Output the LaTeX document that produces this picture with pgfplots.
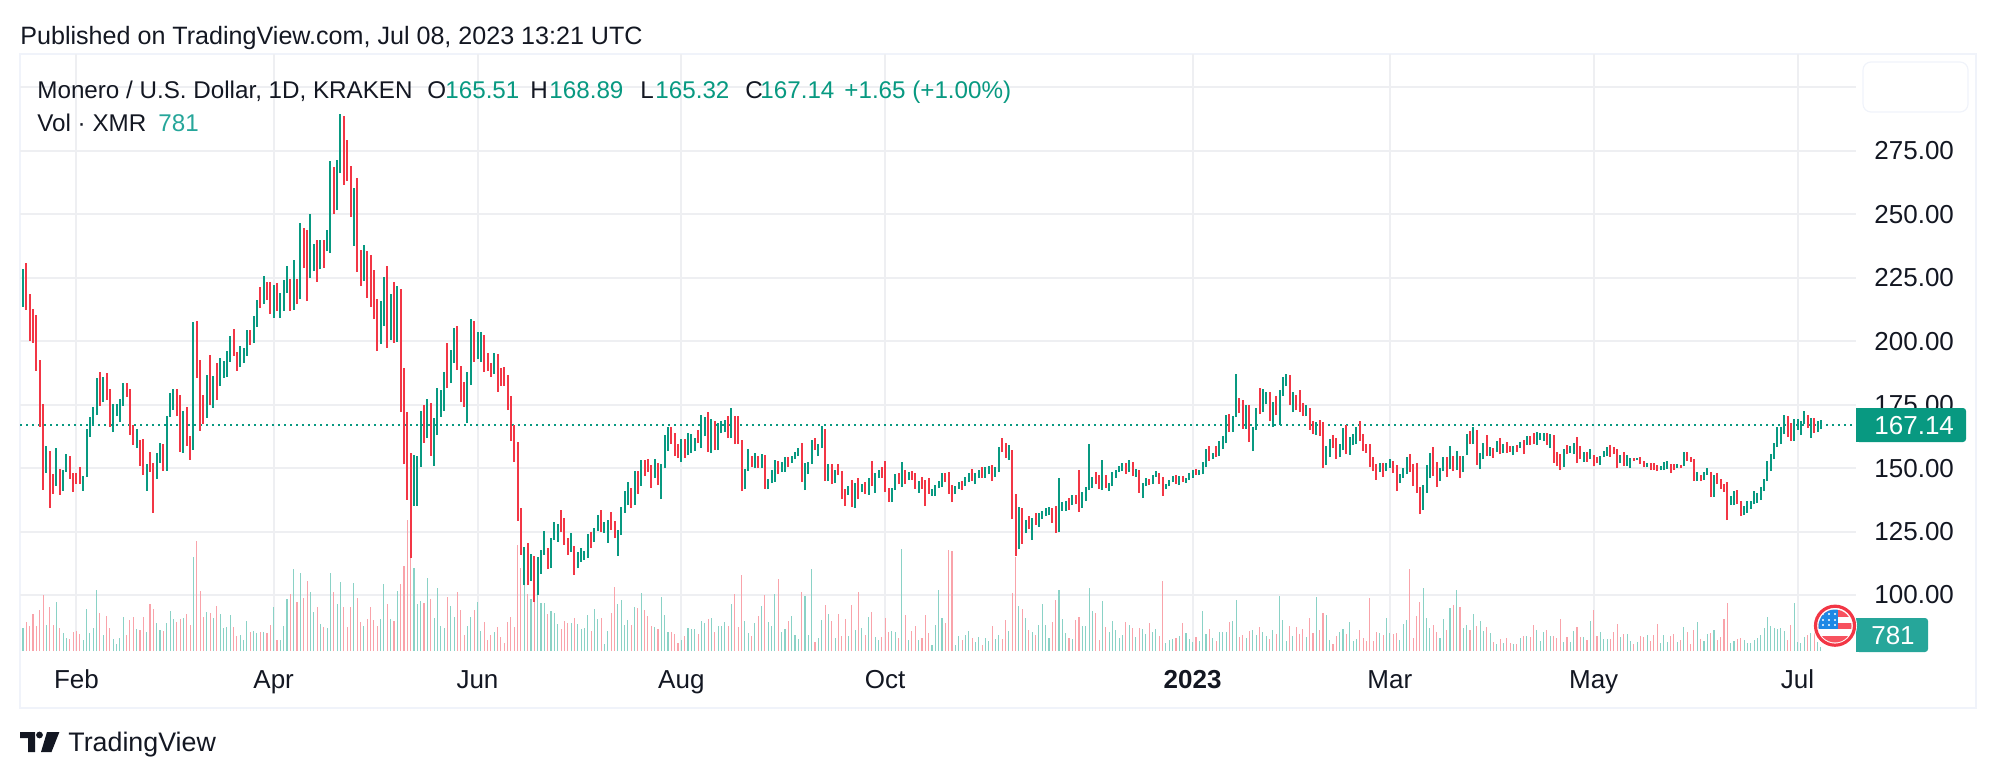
\documentclass[border=0pt]{standalone}
\usepackage{fontspec}
\setmainfont{Liberation Sans}
\usepackage{pgfplots}
\usepackage{pgfplotstable}
\pgfplotsset{compat=1.18}
\definecolor{tvg}{HTML}{089981}
\definecolor{tvr}{HTML}{F23645}
\definecolor{volg}{HTML}{8AD2C6}
\definecolor{volr}{HTML}{F9A3AA}
\definecolor{volbox}{HTML}{26A69A}
\definecolor{ink}{HTML}{131722}
\definecolor{gridc}{HTML}{EEEFF2}
\definecolor{framec}{HTML}{F0F3FA}
\definecolor{flagred}{HTML}{F7525F}
\definecolor{blue1}{HTML}{1E88E5}
\pgfplotstableread{
i hi lo c v
0 228.4 213.5 1 4485
1 230.8 212.3 0 5655
2 218.6 200.1 0 4875
3 212.7 199.3 0 7215
4 210.3 188.3 0 4875
5 192.6 166.2 0 7995
6 175.3 141.4 0 10920
7 158.7 148.1 1 5070
8 156.8 134.3 0 8580
9 147.7 139.8 0 5070
10 157.9 143.0 1 9555
11 149.7 139.4 0 4485
12 149.3 141.0 1 3510
13 155.6 148.5 1 2535
14 154.8 145.7 0 2340
15 148.1 140.6 0 3705
16 148.1 143.8 0 3900
17 150.5 143.8 0 3315
18 146.9 141.0 1 2145
19 165.4 146.5 1 8190
20 170.2 162.3 1 3510
21 174.1 166.6 1 4485
22 185.5 170.9 1 11895
23 187.9 174.5 0 7410
24 185.9 176.0 1 3120
25 187.5 176.8 0 6825
26 181.2 166.2 0 4485
27 175.3 164.2 1 2340
28 175.3 170.5 1 1365
29 177.2 168.2 1 2535
30 183.5 174.5 1 6630
31 183.5 178.0 0 3120
32 181.2 163.1 0 6045
33 167.0 159.1 0 6630
34 165.4 157.9 1 4290
35 161.1 150.9 0 4095
36 161.5 147.3 0 6630
37 151.6 141.0 1 3705
38 156.4 148.5 0 9165
39 152.0 132.4 0 8190
40 156.0 145.7 1 5460
41 159.9 152.0 1 4095
42 159.5 148.9 0 3900
43 170.5 148.9 1 5460
44 179.6 170.2 1 7800
45 181.2 172.9 1 6240
46 181.2 170.5 0 5655
47 178.8 156.4 0 6240
48 172.5 156.0 1 6435
49 174.1 158.7 0 7215
50 162.7 153.2 0 5070
51 207.6 157.2 1 18330
52 207.9 185.5 0 21450
53 192.6 164.6 0 11700
54 178.8 167.4 0 6630
55 186.7 169.8 1 7605
56 194.6 174.9 0 7410
57 186.3 173.7 1 6435
58 191.4 176.8 0 8775
59 193.4 182.4 1 7215
60 192.2 185.5 1 4485
61 196.1 185.9 1 4680
62 202.0 191.8 1 7020
63 204.8 194.2 0 4680
64 195.7 188.3 0 2925
65 198.1 189.8 1 3120
66 197.3 191.4 1 2145
67 204.4 194.2 1 5850
68 204.4 198.5 0 3705
69 209.9 199.3 1 3900
70 216.2 205.6 1 3510
71 221.3 213.1 0 3705
72 225.7 214.6 1 3705
73 223.3 216.2 0 3510
74 223.3 210.7 0 5070
75 222.1 209.1 1 8580
76 222.9 211.9 0 2145
77 219.0 209.1 1 2145
78 224.1 211.9 1 4875
79 229.6 219.0 1 10140
80 224.5 211.9 0 11115
81 232.0 212.3 1 15990
82 224.5 214.6 0 9555
83 246.5 216.6 1 15210
84 244.6 228.8 0 10335
85 243.8 215.8 0 13650
86 250.1 224.9 1 11505
87 238.3 227.6 1 7605
88 239.8 223.3 0 8580
89 239.8 228.4 1 5265
90 239.8 228.8 0 4680
91 243.8 235.5 1 4485
92 270.9 234.7 1 15210
93 268.6 250.1 0 11505
94 271.3 251.6 1 9165
95 289.4 266.2 1 13455
96 288.7 261.5 0 8580
97 279.2 263.1 0 4680
98 269.0 248.9 0 8580
99 260.3 237.5 1 13260
100 264.2 227.2 0 10335
101 235.9 221.7 0 5655
102 237.9 223.7 1 4875
103 235.5 217.0 0 6240
104 233.9 213.5 0 8580
105 228.0 208.7 0 6045
106 216.6 196.1 0 4875
107 215.8 198.9 1 6240
108 225.3 206.0 1 13065
109 229.6 197.3 0 9165
110 218.6 200.5 1 6240
111 223.3 199.3 0 5850
112 221.7 199.7 1 11700
113 220.5 172.1 0 13065
114 189.4 151.6 0 16575
115 172.1 137.5 0 25545
116 156.0 114.6 0 18135
117 155.2 135.1 1 16185
118 154.8 135.1 1 9165
119 172.5 150.5 1 9750
120 174.9 159.9 0 9360
121 177.2 161.9 1 14235
122 175.7 154.8 0 10140
123 169.8 150.9 1 6435
124 181.6 163.1 1 12285
125 180.8 170.2 1 4875
126 187.9 172.5 1 4485
127 199.3 181.6 0 10530
128 196.5 183.5 1 8775
129 205.2 191.4 1 6630
130 206.0 188.7 0 11505
131 190.2 176.0 0 7995
132 183.9 174.1 0 3120
133 187.9 167.8 1 4875
134 208.7 182.7 1 6630
135 207.9 191.8 0 7995
136 203.6 193.0 1 9555
137 203.6 191.8 1 3900
138 202.4 187.9 0 5655
139 195.3 188.3 0 2145
140 191.4 185.9 0 3120
141 195.3 187.1 1 3705
142 194.9 180.0 0 4680
143 189.4 182.3 0 2665
144 189.8 182.3 0 1495
145 186.6 172.8 0 5590
146 178.3 160.6 0 6565
147 166.9 152.4 0 4615
148 160.2 129.1 0 20605
149 134.3 115.8 0 16120
150 118.9 103.9 1 12805
151 120.5 103.9 0 11050
152 116.1 105.5 1 10075
153 115.4 97.2 0 9880
154 115.0 100.0 1 10855
155 117.7 108.3 1 9295
156 125.2 115.8 1 9295
157 118.5 110.2 0 7150
158 122.4 110.6 1 7735
159 128.7 121.7 1 7345
160 127.9 120.9 1 5200
161 133.5 124.8 0 4225
162 130.3 119.7 0 5785
163 122.4 115.8 0 5395
164 124.4 116.9 1 5395
165 119.3 107.9 0 6370
166 116.9 110.6 1 5200
167 118.5 113.0 1 4225
168 117.3 113.8 1 4420
169 124.0 114.6 1 6955
170 124.8 118.5 0 3835
171 126.4 120.9 1 8125
172 131.5 125.2 1 6175
173 133.5 124.8 0 6370
174 128.7 124.4 1 1300
175 129.5 120.5 1 3835
176 132.7 125.6 0 7345
177 129.1 122.4 0 12415
178 125.6 115.4 1 9100
179 134.6 123.6 1 9880
180 140.9 132.3 1 5005
181 144.5 135.4 1 5980
182 142.1 134.3 0 5005
183 148.8 135.4 1 8515
184 148.8 139.8 0 8320
185 153.1 142.9 1 11245
186 153.1 146.8 0 7930
187 153.5 148.4 0 6760
188 151.2 142.1 0 4810
189 153.5 146.1 1 4615
190 152.0 143.3 0 4225
191 151.6 137.8 1 10465
192 163.0 150.0 1 6955
193 166.1 156.7 1 3640
194 166.1 159.4 0 3640
195 163.8 154.7 0 3250
196 159.4 153.9 0 1495
197 161.4 152.4 1 2080
198 161.4 153.9 0 2860
199 163.8 155.1 1 4420
200 163.4 155.9 1 4225
201 161.8 156.7 1 4225
202 165.0 159.8 0 3250
203 170.9 157.9 1 5785
204 170.1 162.6 1 5395
205 172.0 156.3 0 6175
206 169.3 155.9 1 6370
207 168.5 157.1 0 3640
208 167.7 157.1 1 4810
209 168.5 163.8 1 4810
210 168.9 164.2 1 5590
211 170.5 161.8 0 4810
212 173.6 161.8 1 9100
213 170.5 159.4 0 11050
214 170.5 159.4 0 4615
215 161.0 140.9 0 14755
216 149.6 141.7 1 5785
217 157.5 148.8 1 3445
218 154.7 150.4 0 2860
219 155.9 150.0 1 5395
220 154.7 150.0 0 6760
221 155.5 150.0 1 8710
222 155.1 141.7 0 10855
223 145.7 141.7 1 5590
224 149.2 144.1 1 4810
225 153.1 144.5 1 11050
226 152.8 147.6 0 13975
227 152.4 148.4 1 3640
228 154.3 148.4 1 4225
229 154.3 150.4 0 5785
230 154.7 152.0 1 6760
231 156.3 153.5 1 3055
232 157.9 154.7 1 2275
233 159.8 144.5 0 11440
234 152.0 141.3 1 10660
235 152.4 147.6 1 3055
236 161.0 151.6 1 15925
237 161.8 157.1 0 1690
238 159.4 154.7 1 2470
239 166.5 157.9 1 5980
240 165.4 144.9 0 8905
241 151.6 144.9 1 7150
242 151.6 143.7 0 5785
243 149.2 144.1 1 2470
244 151.6 147.2 0 7150
245 148.8 137.8 0 2860
246 141.7 135.0 0 6175
247 142.9 139.4 1 2860
248 145.3 134.6 0 8905
249 144.1 134.3 1 4030
250 146.1 137.8 0 11440
251 143.7 140.5 1 4420
252 144.5 139.8 0 3055
253 146.1 139.4 1 6565
254 152.8 142.9 0 7540
255 148.0 140.2 1 2665
256 149.2 146.1 1 2080
257 150.4 146.1 0 2665
258 152.8 140.5 0 6370
259 142.1 136.6 0 3640
260 142.1 136.6 1 3835
261 147.6 141.3 1 3640
262 148.0 143.7 0 2470
263 152.4 142.5 1 19825
264 149.2 143.7 0 6955
265 148.4 145.3 1 2080
266 148.8 145.3 0 3835
267 148.0 141.7 0 4810
268 144.9 140.2 1 2080
269 146.5 141.7 0 2470
270 145.3 135.0 0 6955
271 146.1 139.8 0 3445
272 141.7 139.0 1 1105
273 143.3 139.0 1 5005
274 144.9 142.1 1 11830
275 148.0 142.5 1 6370
276 148.0 144.5 0 5395
277 148.4 139.8 0 19630
278 143.3 136.6 0 19435
279 142.9 139.8 1 1105
280 144.5 141.7 1 2860
281 144.9 141.3 0 2080
282 146.5 142.9 1 3055
283 148.0 144.5 1 3835
284 149.6 144.9 0 2470
285 148.0 143.7 1 1690
286 149.2 146.1 1 2665
287 150.4 146.1 0 1105
288 150.4 146.1 1 2470
289 150.8 147.6 1 1885
290 151.2 144.9 0 4810
291 150.4 146.5 1 2275
292 158.3 148.4 1 3055
293 161.8 156.3 0 2275
294 159.8 153.9 0 5980
295 159.0 153.1 1 3835
296 157.1 129.9 0 11245
297 139.8 115.4 0 18265
298 134.6 118.1 1 8710
299 134.3 120.1 0 8125
300 129.5 124.4 1 6370
301 131.1 126.0 0 4030
302 130.3 121.7 1 3640
303 132.3 127.6 0 3055
304 132.3 126.8 1 5005
305 133.1 129.9 1 9100
306 134.3 131.1 1 5005
307 134.6 131.5 1 2470
308 134.3 128.4 0 5590
309 135.0 124.4 0 9880
310 146.1 124.8 1 11830
311 136.6 133.1 1 6175
312 137.0 133.1 1 3445
313 138.2 133.5 0 2470
314 139.4 135.4 1 2275
315 139.4 135.8 0 5980
316 149.2 132.7 0 6565
317 140.6 134.3 1 4810
318 142.5 137.0 1 4810
319 159.4 141.3 1 12220
320 146.5 142.1 1 7735
321 148.4 143.7 0 7345
322 147.2 141.7 0 2080
323 153.1 141.3 1 9685
324 147.2 142.1 0 4615
325 144.1 140.9 1 3640
326 148.4 142.9 1 5785
327 149.2 146.1 1 4030
328 150.8 148.4 1 2470
329 152.0 148.8 1 3055
330 152.0 147.6 0 5590
331 153.1 148.4 1 5005
332 152.4 146.9 0 4420
333 149.6 146.5 1 2665
334 149.2 140.2 0 4420
335 144.1 138.2 1 4225
336 146.1 142.9 1 3250
337 145.7 143.3 0 5395
338 147.2 143.7 1 3640
339 148.8 146.5 1 4225
340 148.0 143.7 0 2860
341 146.5 139.0 0 13585
342 143.7 141.7 1 1495
343 145.3 142.9 1 2080
344 146.9 144.5 1 2275
345 147.2 143.7 0 2470
346 146.9 143.3 1 2860
347 146.9 144.5 0 5395
348 146.1 144.1 1 3445
349 148.0 145.3 1 2275
350 149.2 146.1 1 1690
351 149.6 147.2 0 2665
352 149.2 147.2 1 1885
353 152.4 147.6 1 7735
354 157.5 150.4 1 3250
355 158.7 152.8 0 4225
356 155.9 153.5 1 2470
357 158.7 154.3 0 1885
358 160.6 154.7 1 3640
359 162.6 157.5 1 3640
360 170.9 159.8 1 3640
361 171.3 164.2 0 5590
362 170.5 164.2 1 5785
363 187.0 170.1 1 9880
364 177.6 171.6 0 2665
365 176.8 165.4 0 3055
366 174.8 165.4 1 2470
367 174.8 160.2 0 3835
368 166.1 156.7 1 4030
369 173.6 165.0 1 3055
370 181.5 171.3 0 4615
371 181.1 172.0 1 3640
372 179.9 175.2 1 2860
373 179.9 168.5 0 2275
374 176.0 166.1 1 4030
375 178.4 170.9 0 3250
376 180.7 166.9 1 10660
377 185.8 178.4 1 5980
378 187.0 182.3 1 1885
379 186.6 174.8 0 4810
380 179.9 172.0 1 2860
381 178.7 172.8 0 4615
382 180.7 172.0 0 3250
383 175.6 170.5 0 4225
384 174.8 170.5 1 2665
385 173.6 165.0 0 6370
386 168.5 163.4 0 3445
387 168.1 163.0 1 10465
388 168.9 162.6 0 4030
389 168.1 150.0 0 7345
390 158.7 151.2 1 6955
391 161.4 154.3 1 2080
392 163.0 157.9 0 1300
393 161.8 153.5 0 2860
394 159.4 154.3 1 3640
395 165.8 157.1 1 4225
396 166.9 155.5 0 3250
397 162.2 155.1 1 5590
398 163.4 159.0 1 1885
399 166.1 159.4 1 2275
400 168.5 160.6 0 4030
401 163.4 156.7 0 2470
402 159.4 155.9 0 1885
403 159.4 150.4 0 10270
404 154.3 148.8 0 1885
405 151.6 145.3 0 3640
406 152.0 148.4 1 3445
407 152.0 146.5 0 3055
408 152.0 148.8 1 6370
409 153.5 150.0 1 3445
410 152.8 148.0 0 3250
411 151.2 140.9 0 3445
412 147.6 144.1 1 2080
413 150.0 146.1 1 5200
414 154.3 147.6 1 5980
415 155.5 148.4 0 15925
416 151.6 142.9 0 2470
417 152.0 140.2 0 6760
418 142.5 131.9 0 9490
419 143.3 133.5 1 12220
420 151.2 140.2 1 6370
421 155.9 146.1 1 4420
422 158.3 146.9 0 5005
423 152.4 142.5 0 3640
424 150.0 144.9 1 2470
425 154.3 148.8 1 6175
426 154.3 146.5 0 4030
427 158.7 149.6 1 8320
428 154.7 148.8 0 8905
429 156.7 149.2 1 11830
430 154.7 146.1 0 8515
431 154.7 148.4 1 4420
432 163.4 155.1 1 5005
433 164.6 159.4 0 4030
434 166.1 159.4 1 7150
435 164.9 151.2 0 4810
436 155.9 149.6 1 5785
437 159.8 153.5 1 3835
438 163.0 154.7 0 4615
439 158.3 154.7 1 3445
440 157.9 153.9 0 1690
441 160.6 156.3 1 1300
442 161.8 155.5 0 2275
443 159.4 155.9 1 1495
444 160.2 155.9 0 2470
445 158.7 156.3 0 1495
446 158.7 155.1 1 1300
447 159.0 156.3 0 1300
448 160.2 157.9 1 2470
449 161.0 155.5 0 2860
450 162.6 159.0 1 2860
451 162.6 159.0 0 2665
452 163.8 159.4 0 5005
453 164.3 159.0 1 4030
454 163.8 161.0 1 1885
455 163.8 160.6 1 3640
456 163.8 159.0 0 4030
457 163.4 157.9 1 2860
458 163.0 151.9 0 2860
459 156.3 150.8 0 2470
460 155.5 149.2 0 6175
461 157.5 150.4 1 1690
462 159.0 155.5 0 2665
463 158.7 155.9 1 1690
464 159.8 155.5 1 3835
465 162.2 151.9 0 4615
466 158.7 153.5 0 2665
467 156.3 152.4 1 2665
468 156.3 152.4 0 2080
469 157.5 153.5 1 5785
470 155.1 150.8 0 7930
471 154.3 151.9 0 2860
472 154.7 151.2 1 3640
473 156.7 154.3 1 2275
474 158.3 154.7 1 2275
475 159.0 154.3 0 2275
476 158.3 155.5 0 3640
477 157.5 150.0 0 5200
478 155.1 151.9 1 2665
479 156.3 150.8 0 3250
480 155.1 150.8 1 3250
481 153.9 150.0 1 1885
482 153.9 152.7 0 1300
483 153.9 153.1 1 1690
484 154.3 151.6 0 2860
485 152.7 150.4 0 2665
486 152.0 150.4 1 3055
487 152.0 149.2 0 1885
488 152.0 149.2 0 3055
489 151.2 148.8 0 5200
490 150.8 149.2 1 1495
491 152.4 149.2 1 3055
492 152.7 149.6 1 1690
493 151.6 148.0 0 2860
494 151.6 149.2 0 3250
495 151.6 150.0 1 1690
496 151.2 150.0 0 2080
497 156.3 150.8 1 4615
498 156.3 152.7 0 3640
499 154.3 152.4 0 1300
500 153.5 144.9 0 4030
501 148.4 144.9 1 5590
502 147.2 144.9 0 2275
503 148.4 145.3 1 1885
504 150.0 147.2 1 3250
505 148.4 138.6 0 3445
506 147.2 138.6 1 4030
507 148.0 143.7 0 2080
508 145.7 141.7 0 2665
509 143.7 140.5 0 6175
510 144.5 129.5 0 9295
511 139.0 135.4 1 1495
512 140.9 135.4 1 1885
513 141.3 135.8 0 2275
514 137.0 131.1 0 2470
515 135.0 131.5 1 2080
516 137.0 132.3 1 1495
517 137.0 133.9 1 1495
518 140.9 135.8 1 2080
519 140.1 136.2 1 2470
520 142.5 137.4 1 3055
521 145.7 140.9 1 4420
522 152.7 144.9 1 6565
523 155.5 148.8 1 4810
524 159.8 153.5 1 4420
525 166.1 158.3 1 4225
526 166.1 159.4 1 4420
527 170.9 163.4 1 3835
528 170.5 162.2 0 2080
529 167.7 160.6 0 5005
530 169.3 160.6 1 9295
531 169.3 165.0 1 1820
532 168.5 163.0 1 1495
533 172.4 167.3 1 2795
534 170.9 165.7 0 3120
535 169.7 161.8 1 3445
536 169.7 163.8 0 5395
537 168.5 164.2 1 1820
538 168.89 165.32 1 781
}\xmr
\pgfplotsset{pane/.style={at={(10pt,63.5pt)},anchor=south west,scale only axis,
  width=918pt,height=298.5pt,xmin=-0.9,xmax=548.5,clip=true}}
\newcommand{\tv}{\fontsize{12.1}{14}\selectfont}
\begin{document}
\begin{tikzpicture}
\useasboundingbox (0,0) rectangle (998pt,389pt);
\begin{scope}[x=0.5pt,y=-0.5pt,yshift=389pt]
\draw[framec,line width=1pt] (20,54) rectangle (1976,708);
\draw[framec,line width=0.6pt,rounded corners=4pt] (1863,62) rectangle (1968,112);
\end{scope}
% grid and tick labels
\begin{axis}[pane,ymin=77.94,ymax=313.1,
  axis line style={draw=none},major tick length=0pt,
  grid=major,grid style={gridc,line width=1pt},
  xtick={16,75,136,197,258,350,409,470,531},
  xticklabels={Feb,Apr,Jun,Aug,Oct,\textbf{2023},Mar,May,Jul},
  ytick={100,125,150,175,200,225,250,275,300},
  yticklabels={100.00,125.00,150.00,175.00,200.00,225.00,250.00,275.00,{}},
  yticklabel pos=right,
  tick label style={font=\fontsize{13}{15}\selectfont,text=ink},
  xticklabel style={anchor=center,yshift=-15.5pt,text height=9.4pt,text depth=2.8pt},
  yticklabel style={anchor=west,xshift=9pt,inner sep=0pt},
]
\end{axis}
% volume
\begin{axis}[pane,hide axis,ymin=0,ymax=116415]
\addplot[ycomb,volg,line width=0.55pt,mark=none] table[x expr={\thisrow{c}>0?\thisrow{i}:nan},y=v]{\xmr};
\addplot[ycomb,volr,line width=0.55pt,mark=none] table[x expr={\thisrow{c}<1?\thisrow{i}:nan},y=v]{\xmr};
\end{axis}
% price
\begin{axis}[pane,hide axis,ymin=77.94,ymax=313.1]
\addplot[tvg,line width=1pt,dash pattern=on 1pt off 2pt,mark=none] coordinates {(-0.9,167.14) (548.5,167.14)};
\addplot[draw=none,mark=none,error bars/.cd,y dir=plus,y explicit,error mark=none,
  error bar style={tvg,line width=1pt}]
  table[x expr={\thisrow{c}>0?\thisrow{i}:nan},y=lo,y error plus expr=\thisrow{hi}-\thisrow{lo}]{\xmr};
\addplot[draw=none,mark=none,error bars/.cd,y dir=plus,y explicit,error mark=none,
  error bar style={tvr,line width=1pt}]
  table[x expr={\thisrow{c}<1?\thisrow{i}:nan},y=lo,y error plus expr=\thisrow{hi}-\thisrow{lo}]{\xmr};
\end{axis}
\begin{scope}[x=0.5pt,y=-0.5pt,yshift=389pt]
\tikzset{t/.style={anchor=base west,inner sep=0pt,font=\tv,text=ink},g/.style={t,text=tvg}}
\node[t,font=\fontsize{12.55}{14}\selectfont] at (20,45) {Published on TradingView.com, Jul 08, 2023 13:21 UTC};
\node[t] at (37,98.5) {Monero / U.S. Dollar, 1D, KRAKEN};
\node[t] at (427,98.5) {O}; \node[g] at (445,98.5) {165.51};
\node[t] at (530,98.5) {H}; \node[g] at (549,98.5) {168.89};
\node[t] at (640,98.5) {L}; \node[g] at (655,98.5) {165.32};
\node[t] at (745,98.5) {C}; \node[g] at (760,98.5) {167.14};
\node[g] at (844,98.5) {+1.65 (+1.00\%)};
\node[t] at (37,131.5) {Vol · XMR};
\node[t,text=volbox] at (158,131.5) {781};
% last price and volume boxes
\fill[tvg,rounded corners=1.5pt] (1856,408) rectangle (1966,442);
\fill[tvg] (1856,408) rectangle (1866,442);
\node[anchor=west,inner sep=0pt,text=white,font=\fontsize{13}{15}\selectfont] at (1874,425.5) {167.14};
\fill[volbox,rounded corners=1.5pt] (1856,618) rectangle (1928,652);
\fill[volbox] (1856,618) rectangle (1866,652);
\node[anchor=center,inner sep=0pt,text=white,font=\fontsize{13}{15}\selectfont] at (1893,635.5) {781};
% flag
\fill[white] (1835,625.7) circle (22pt*0.5);
\draw[tvr,line width=1.6pt] (1835,625.7) circle (19.5pt*0.5);
\begin{scope}
\clip (1835,626) circle (16.5pt*0.5);
\fill[white] (1818,609) rectangle (1852,643);
\fill[flagred] (1818,610) rectangle (1852,616.5);
\fill[flagred] (1818,622.5) rectangle (1852,629);
\fill[flagred] (1818,635.5) rectangle (1852,643);
\fill[blue1] (1818,609) rectangle (1838,629);
\foreach \a in {1823,1829,1835}{\foreach \b in {614,620,625}{\fill[white] (\a,\b) circle (0.6pt);}}
\end{scope}
% logo
\fill[ink] (20,732) -- (35,732) -- (35,752) -- (28,752) -- (28,738) -- (20,738) -- cycle;
\fill[ink] (39.5,735) circle (1.7pt);
\fill[ink] (47,732) -- (59.4,732) -- (51.5,752) -- (41,752) -- cycle;
\node[anchor=base west,inner sep=0pt,font=\fontsize{13.4}{16}\selectfont,text=ink] at (68,751) {TradingView};
\end{scope}
\end{tikzpicture}
\end{document}
